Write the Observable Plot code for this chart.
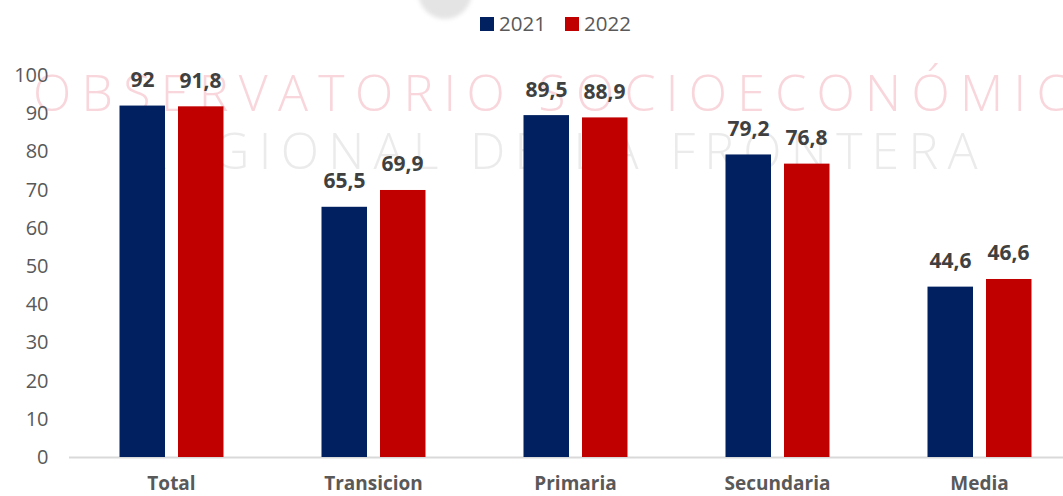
<!DOCTYPE html>
<html>
<head>
<meta charset="utf-8">
<script src="https://cdn.jsdelivr.net/npm/d3@7"></script>
<script src="https://cdn.jsdelivr.net/npm/@observablehq/plot@0.6"></script>
<style>
  html, body { margin: 0; padding: 0; background: #fff; width: 1063px; height: 496px; overflow: hidden; position: relative; }
  #blob { position: absolute; left: 418px; top: -35px; width: 54px; height: 54px; border-radius: 50%; background: #e4e4e4; filter: blur(2px); }
  #legend { position: relative; height: 40px; font-family: "Open Sans", sans-serif; font-size: 20.5px; color: #595959; }
  .sw { position: absolute; top: 17px; width: 14px; height: 14px; }
  .lt { position: absolute; top: 9px; line-height: 28px; }
  #chart svg { display: block; }
</style>
</head>
<body>
<div id="blob"></div>
<div id="legend"></div>
<div id="chart"></div>
<script>
const categories = ["Total", "Transicion", "Primaria", "Secundaria", "Media"];
const years = ["2021", "2022"];
const values2021 = [92, 65.5, 89.5, 79.2, 44.6];
const values2022 = [91.8, 69.9, 88.9, 76.8, 46.6];
const colors = ["#002060", "#c00000"];
const yTicks = [0, 10, 20, 30, 40, 50, 60, 70, 80, 90, 100];
const watermark = ["OBSERVATORIO SOCIOECONÓMICO", "REGIONAL DE LA FRONTERA"];

const rows2021 = categories.map((c, i) => ({category: c, year: years[0], value: values2021[i]}));
const rows2022 = categories.map((c, i) => ({category: c, year: years[1], value: values2022[i]}));
const fmt = v => String(v).replace(".", ",");

// legend
const legend = document.getElementById("legend");
const legendPos = [[480, 499], [565, 584]];
years.forEach((y, i) => {
  const sw = document.createElement("span");
  sw.className = "sw";
  sw.style.left = legendPos[i][0] + "px";
  sw.style.background = colors[i];
  const t = document.createElement("span");
  t.className = "lt";
  t.style.left = legendPos[i][1] + "px";
  t.textContent = y;
  legend.appendChild(sw);
  legend.appendChild(t);
});

const W = 1063, H = 456;
const chart = Plot.plot({
  width: W,
  height: H,
  marginLeft: 69,
  marginRight: 0,
  marginTop: 35,
  marginBottom: 39,
  style: {fontFamily: "'Open Sans', sans-serif", background: "transparent", overflow: "visible"},
  x: {domain: categories, range: [69, 1081], padding: 0},
  y: {domain: [0, 100]},
  marks: [
    Plot.text([watermark[0]], {frameAnchor: "top-left", dx: 574 - 69, dy: 54 - 35, text: d => d, textAnchor: "middle", lineAnchor: "middle", fontSize: 50, fontWeight: 300, fill: "#f8d6db"}),
    Plot.text([watermark[1]], {frameAnchor: "top-left", dx: 557 - 69, dy: 112 - 35, text: d => d, textAnchor: "middle", lineAnchor: "middle", fontSize: 50, fontWeight: 300, fill: "#ebebeb"}),
    Plot.axisY({ticks: yTicks, tickSize: 0, tickPadding: 21, fontSize: 20, color: "#595959", label: null}),
    Plot.axisX({tickSize: 0, tickPadding: 19, fontSize: 19, fontWeight: "bold", color: "#595959", label: null}),
    Plot.ruleY([0], {stroke: "#d9d9d9", strokeWidth: 2}),
    Plot.barY(rows2021, {x: "category", y: "value", fill: colors[0], insetLeft: 49.5, insetRight: 107}),
    Plot.barY(rows2022, {x: "category", y: "value", fill: colors[1], insetLeft: 108, insetRight: 48.5}),
    Plot.text(rows2021, {x: "category", y: "value", text: d => fmt(d.value), dx: -29, dy: -19, lineAnchor: "bottom", fontSize: 21, fontWeight: "bold", fill: "#404040"}),
    Plot.text(rows2022, {x: "category", y: "value", text: d => fmt(d.value), dx: 29, dy: -19, lineAnchor: "bottom", fontSize: 21, fontWeight: "bold", fill: "#404040"})
  ]
});
const wmLengths = [1083, 840];
d3.select(chart).selectAll("text").each(function() {
  const i = watermark.indexOf(this.textContent);
  if (i >= 0) {
    this.setAttribute("textLength", wmLengths[i]);
    this.setAttribute("lengthAdjust", "spacing");
  }
});
document.getElementById("chart").appendChild(chart);
</script>
</body>
</html>
